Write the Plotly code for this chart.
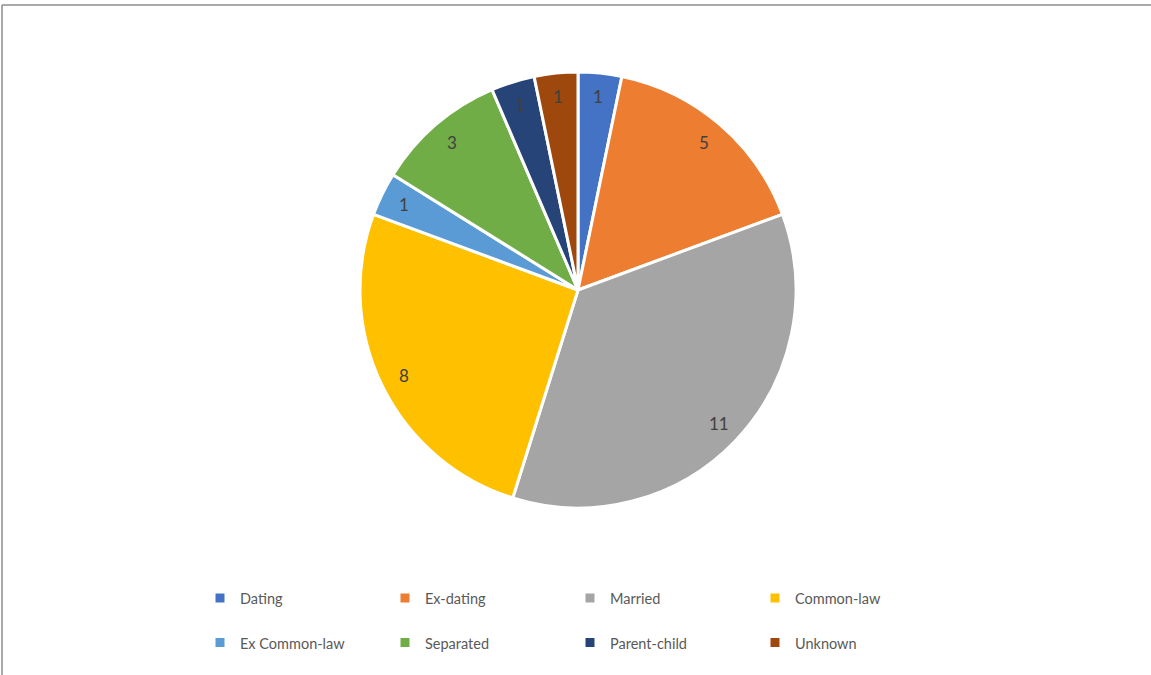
import math
import plotly.graph_objects as go

categories = ["Dating", "Ex-dating", "Married", "Common-law",
              "Ex Common-law", "Separated", "Parent-child", "Unknown"]
counts = [1, 5, 11, 8, 1, 3, 1, 1]
colors = ["#4472C4", "#ED7D31", "#A5A5A5", "#FFC000",
          "#5B9BD5", "#70AD47", "#264478", "#9E480E"]

W, H = 1151, 675
ML, MR = 195, 195
PW = W - ML - MR


def px_x(p):
    return (p - ML) / PW


def px_y(p):
    return 1 - p / H


cx_px, cy_px, r_px = 578, 290, 218
dom_x = [px_x(cx_px - r_px), px_x(cx_px + r_px)]
dom_y = [px_y(cy_px + r_px), px_y(cy_px - r_px)]

legend_labels = ["<span style='font-size:14.5px'>" + c + "</span><br> " for c in categories]

fig = go.Figure(go.Pie(
    labels=legend_labels, values=counts, sort=False, direction="clockwise",
    rotation=0, marker=dict(colors=colors, line=dict(color="white", width=3)),
    textinfo="none", customdata=categories,
    hovertemplate="%{customdata}: %{value}<extra></extra>",
    domain=dict(x=dom_x, y=dom_y),
))

# value labels placed inside slices near the rim
total = sum(counts)
cum = 0
annotations = []
for v in counts:
    mid = (cum + v / 2) / total * 2 * math.pi
    cum += v
    d = 0.89 * r_px
    annotations.append(dict(x=px_x(cx_px + d * math.sin(mid)),
                            y=px_y(cy_px - d * math.cos(mid)),
                            xref="paper", yref="paper", text=str(v),
                            xanchor="center", yanchor="middle",
                            showarrow=False, font=dict(size=17, color="#404040")))

fig.update_layout(
    width=W, height=H, margin=dict(l=ML, r=MR, t=0, b=0, autoexpand=False),
    paper_bgcolor="white", plot_bgcolor="white",
    font=dict(family="Lato, sans-serif", color="#595959"),
    annotations=annotations,
    legend=dict(orientation="h", x=px_x(200), y=px_y(581), xanchor="left", yanchor="top",
                valign="top", font=dict(size=16, color="#595959"),
                entrywidth=140, entrywidthmode="pixels"),
    shapes=[
        dict(type="line", xref="paper", yref="paper", x0=px_x(2), x1=px_x(W), y0=px_y(5), y1=px_y(5),
             line=dict(color="#8c8c8c", width=1.5)),
        dict(type="line", xref="paper", yref="paper", x0=px_x(2), x1=px_x(2), y0=px_y(H), y1=px_y(5),
             line=dict(color="#8c8c8c", width=1.5)),
    ],
)
fig.write_html("out.html", config={"displayModeBar": False},
               post_script="document.body.style.margin='0';")
